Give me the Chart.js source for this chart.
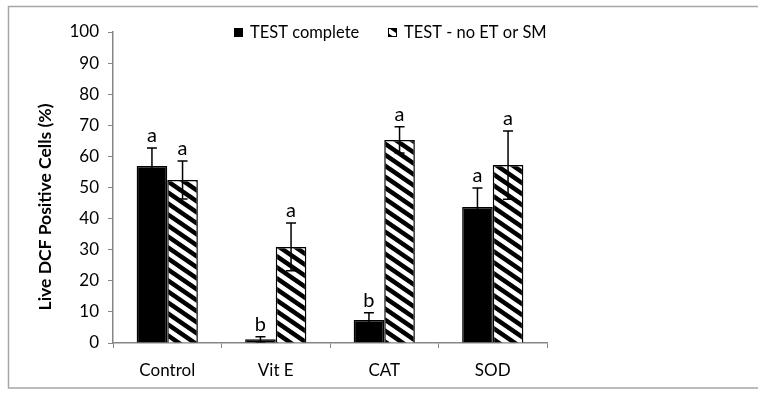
<!DOCTYPE html>
<html>
<head>
<meta charset="utf-8">
<script src="https://cdn.jsdelivr.net/npm/chart.js@4"></script>
<style>
  html, body { margin:0; background:#fff; overflow:hidden; }
</style>
</head>
<body>
<canvas id="chart" width="758" height="395"></canvas>
<script>
const categories = ['Control', 'Vit E', 'CAT', 'SOD'];
const completeValues = [56.9, 1.2, 7.4, 43.7];
const completeErrors = [5.8, 0.8, 2.3, 6.1];
const noEtValues = [52.4, 30.9, 65.3, 57.2];
const noEtErrors = [6.1, 7.7, 4.2, 11];
const completeLetters = ['a', 'b', 'b', 'a'];
const noEtLetters = ['a', 'a', 'a', 'a'];
const seriesNames = ['TEST complete', 'TEST - no ET or SM'];

const FONT = 'Lato, "Open Sans", sans-serif';

// diagonal hatch like excel's wide downward diagonal
function makeHatch(){
    var c = document.createElement('canvas');
    var w = 16, h = 11;
    c.width = w; c.height = h;
    var g = c.getContext('2d');
    g.fillStyle = '#fff';
    g.fillRect(0, 0, w, h);
    g.strokeStyle = '#000';
    g.lineWidth = 4.5;
    [-w, 0, w].forEach(function(dx){
        g.beginPath();
        g.moveTo(dx - w, -h);
        g.lineTo(dx + 2 * w, 2 * h);
        g.stroke();
    });
    return document.getElementById('chart').getContext('2d').createPattern(c, 'repeat');
}
const hatch = makeHatch();

// outer frame of the chart object (right side is cut off in the original)
const frame = {
    id: 'frame',
    beforeDraw(chart){
        var ctx = chart.ctx;
        ctx.save();
        ctx.strokeStyle = '#a6a6a6';
        ctx.lineWidth = 1.5;
        ctx.beginPath();
        ctx.moveTo(760, 6.5);
        ctx.lineTo(8.5, 6.5);
        ctx.lineTo(8.5, 388);
        ctx.lineTo(760, 388);
        ctx.stroke();
        ctx.restore();
    }
};

const errorBars = {
    id: 'errorBars',
    afterDatasetsDraw(chart){
        var ctx = chart.ctx;
        var y = chart.scales.y;
        var errs = [completeErrors, noEtErrors];
        var vals = [completeValues, noEtValues];
        var letters = [completeLetters, noEtLetters];
        ctx.save();
        ctx.strokeStyle = '#000';
        ctx.lineWidth = 1.5;
        ctx.fillStyle = '#000';
        ctx.font = '20px ' + FONT;
        ctx.textAlign = 'center';
        ctx.textBaseline = 'alphabetic';
        for (let d = 0; d < 2; d++){
            var meta = chart.getDatasetMeta(d);
            meta.data.forEach(function(bar, i){
                var top = y.getPixelForValue(vals[d][i] + errs[d][i]);
                var bot = y.getPixelForValue(vals[d][i] - errs[d][i]);
                ctx.beginPath();
                ctx.moveTo(bar.x, top); ctx.lineTo(bar.x, bot);
                ctx.moveTo(bar.x - 5, top); ctx.lineTo(bar.x + 5, top);
                ctx.moveTo(bar.x - 5, bot); ctx.lineTo(bar.x + 5, bot);
                ctx.stroke();
                ctx.fillText(letters[d][i], bar.x, top - 6);
            });
        }
        ctx.restore();
    }
};

// legend sits inside the plot area, and the y title is off-centre, so draw both here
const extras = {
    id: 'extras',
    afterDraw(chart){
        var ctx = chart.ctx;
        ctx.save();
        ctx.font = '16.5px ' + FONT;
        ctx.textBaseline = 'middle';
        ctx.textAlign = 'left';
        var items = [{x: 234, fill: '#000'}, {x: 388, fill: hatch}];
        items.forEach(function(it, i){
            ctx.fillStyle = it.fill;
            ctx.fillRect(it.x, 28, 9, 9);
            ctx.strokeStyle = '#000';
            ctx.lineWidth = 1;
            ctx.strokeRect(it.x + 0.5, 28.5, 8, 8);
            ctx.fillStyle = '#000';
            ctx.fillText(seriesNames[i], it.x + 16, 33);
        });
        ctx.translate(45, 207);
        ctx.rotate(-Math.PI / 2);
        ctx.textAlign = 'center';
        ctx.font = 'bold 17.5px ' + FONT;
        ctx.fillText('Live DCF Positive Cells (%)', 0, 0);
        ctx.restore();
    }
};

new Chart(document.getElementById('chart'), {
    type: 'bar',
    data: {
        labels: categories,
        datasets: [{
            label: seriesNames[0],
            data: completeValues,
            backgroundColor: '#000',
            borderColor: '#000',
            borderWidth: 1.5
        }, {
            label: seriesNames[1],
            data: noEtValues,
            backgroundColor: hatch,
            borderColor: '#000',
            borderWidth: 1.5
        }]
    },
    options: {
        responsive: false,
        animation: false,
        layout: { padding: { left: 9, right: 211, top: 32, bottom: 12 } },
        plugins: { legend: { display: false }, tooltip: { enabled: false } },
        datasets: { bar: { categoryPercentage: 0.564, barPercentage: 1.0 } },
        scales: {
            x: {
                grid: { drawOnChartArea: false, color: '#868686', tickLength: 5, offset: true },
                border: { color: '#868686', width: 1.5 },
                ticks: { color: '#000', font: { family: FONT, size: 17 }, padding: 12 },
                afterFit: function(s){ s.height = 40; }
            },
            y: {
                min: 0, max: 100,
                grid: { drawOnChartArea: false, color: '#868686', tickLength: 5 },
                border: { color: '#868686', width: 1.5 },
                ticks: { stepSize: 10, color: '#000', font: { family: FONT, size: 17 }, padding: 9 },
                afterFit: function(s){ s.width = 104; }
            }
        }
    },
    plugins: [frame, errorBars, extras]
});
</script>
</body>
</html>
